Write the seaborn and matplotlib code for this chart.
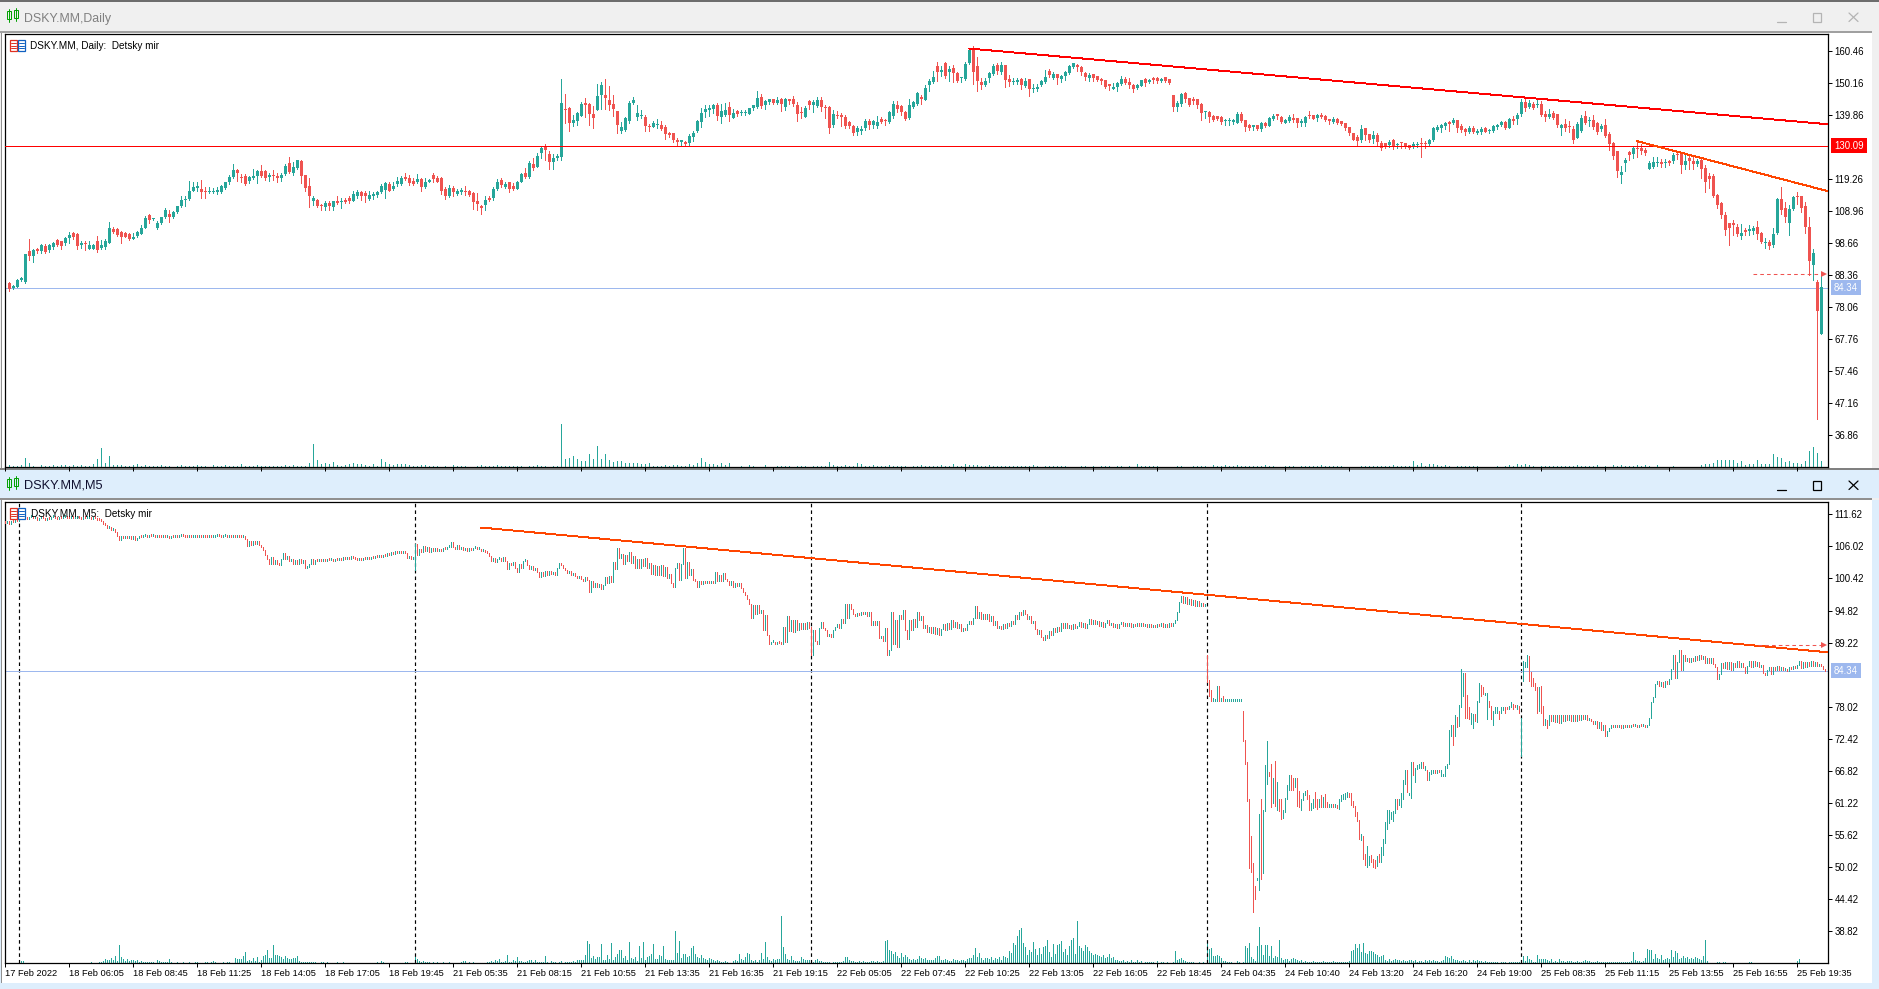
import numpy as np
import pandas as pd
import matplotlib
matplotlib.use("Agg")
import matplotlib.pyplot as plt
import seaborn as sns
from matplotlib.patches import Rectangle
from matplotlib.transforms import Affine2D

# ---------- daily candles (open, high, low, close) ----------
D1_A = [(85.8,86.1,83.1,83.8),(84.3,85.2,84.0,84.7),(84.5,87.1,84.4,86.9),(86.9,87.6,86.6,87.4),(86.3,95.2,85.9,95.2),(96.0,100.0,93.3,94.6),(94.6,96.8,92.7,96.3),(96.7,97.0,95.4,96.0),(96.0,98.3,95.6,98.0),(97.8,98.3,95.6,95.9),(96.3,98.3,95.8,98.0),(97.4,99.1,96.7,98.8),(99.7,100.1,97.6,98.1),(99.3,99.5,96.7,97.8),(98.6,100.6,98.0,100.4),(100.2,102.2,98.6,101.3),(102.0,102.3,100.0,100.8),(101.6,101.9,96.7,97.8),(98.1,99.2,97.0,98.6),(98.8,99.4,96.3,98.4),(96.8,99.3,96.7,98.0),(96.8,98.3,96.7,98.0),(99.2,101.0,95.9,96.3),(97.0,99.7,96.8,98.1),(97.3,99.9,96.9,99.5),(98.6,105.5,98.6,103.6),(103.2,103.8,101.9,102.2),(103.1,103.4,101.0,101.3),(102.4,102.7,98.8,100.8),(101.9,102.1,100.6,100.8),(101.6,101.9,99.7,100.1),(100.1,101.9,99.9,100.8),(101.0,102.7,100.8,102.4),(101.6,104.4,101.5,103.5),(103.7,107.4,103.5,106.8),(107.8,108.1,105.3,106.2),(106.3,106.9,106.0,106.6),(103.7,105.9,103.2,105.3),(105.3,107.2,104.9,107.2),(107.0,110.1,106.7,109.2),(108.1,109.4,105.6,107.0),(107.0,109.0,106.7,108.6),(108.8,110.5,108.5,110.5),(110.7,113.7,110.2,112.6),(112.6,113.7,110.7,112.9),(113.0,118.6,112.6,115.4),(115.6,118.2,115.3,116.9),(116.5,118.2,115.6,117.1),(116.0,119.0,113.1,115.0),(115.6,116.9,113.3,115.0),(115.0,116.9,114.7,115.5),(115.2,116.4,114.7,115.6),(115.2,116.7,114.4,115.8),(115.0,117.4,114.7,117.1),(116.4,118.5,116.0,118.3),(118.4,120.6,117.7,120.1),(120.1,124.2,119.7,122.2),(122.2,122.5,118.7,121.4),(119.7,121.0,118.5,119.5),(120.4,121.0,117.4,117.7),(118.8,120.3,118.0,120.1),(119.7,122.5,119.2,120.3),(120.3,122.2,118.0,121.8),(121.8,123.9,120.1,120.3),(121.8,122.2,119.0,119.7),(120.1,121.2,118.8,120.7),(120.6,122.2,119.0,120.3),(120.4,121.4,118.5,119.6),(119.6,121.4,118.8,120.6),(121.0,124.2,120.6,123.6),(124.4,126.3,121.2,121.6),(121.4,124.9,120.6,123.1),(122.9,125.5,122.5,125.3),(125.0,125.3,118.0,120.3),(120.6,120.6,115.3,116.4),(117.1,119.6,110.2,113.7)]
D1_B = [(112.1,113.7,111.0,113.1),(112.6,112.8,110.2,110.7),(111.0,111.3,109.4,110.5),(110.2,112.3,109.4,111.7),(111.7,112.3,109.2,110.5),(110.2,112.3,109.4,112.2),(112.3,113.7,111.3,111.5),(112.0,113.1,109.9,112.4),(112.6,113.1,111.5,112.0),(113.1,113.7,111.7,112.1),(112.4,115.3,112.1,114.5),(113.7,115.8,113.1,115.2),(115.0,115.6,112.6,113.7),(114.7,115.3,111.8,113.7),(112.9,115.3,112.6,114.2),(113.7,115.0,112.8,114.5),(114.2,115.5,113.5,115.0),(115.2,117.7,114.7,117.1),(115.8,118.2,113.1,118.0),(117.7,118.2,115.3,115.6),(116.0,118.5,115.8,117.1),(117.7,120.1,117.1,118.8),(117.7,120.3,117.3,119.7),(119.9,121.2,119.0,119.2),(119.6,120.6,117.4,118.0),(118.7,119.6,117.4,117.7),(118.5,121.0,118.0,119.2),(119.2,119.6,115.6,116.7),(116.7,119.6,116.4,118.5),(118.4,119.2,118.2,119.0),(120.5,121.2,118.2,119.2),(119.6,120.3,118.2,118.5),(119.7,119.9,114.5,115.3),(116.0,116.9,112.9,113.9),(113.9,117.4,113.5,116.3),(116.5,117.1,113.7,115.0),(114.5,116.0,114.2,115.3),(115.0,116.4,114.5,115.8),(115.4,117.1,114.2,115.1),(115.3,115.8,113.7,114.2),(114.7,115.0,109.6,112.0),(112.1,114.7,109.4,111.2),(110.7,111.0,108.1,109.9),(111.0,113.7,109.4,112.6),(113.1,113.7,112.3,112.6),(113.1,116.6,112.6,116.1),(116.1,119.2,115.8,118.4),(119.0,119.6,116.9,117.3),(116.9,118.5,116.4,117.8),(118.2,118.5,115.0,116.2),(117.2,118.0,115.8,116.1),(116.2,118.6,116.0,118.4),(118.5,121.2,118.2,121.0),(121.4,122.8,119.6,119.9),(119.9,125.2,119.6,124.4),(124.2,126.0,122.2,122.8),(123.3,127.8,123.1,126.8),(127.6,129.5,126.0,129.2),(129.8,130.6,125.5,128.7),(127.4,128.2,122.6,124.9),(124.8,127.3,122.6,126.1),(126.1,127.4,125.5,126.8),(126.5,151.4,125.5,143.7),(142.0,146.7,137.3,141.4),(142.2,142.6,134.8,137.5),(137.5,139.9,136.4,138.3),(138.1,141.0,136.7,140.5),(139.6,144.2,139.6,143.5),(143.9,145.3,139.4,143.2),(143.5,143.7,136.7,140.3)]
D1_C = [(140.3,142.9,135.6,139.0),(141.6,149.9,141.4,146.1),(146.4,150.5,141.8,149.6),(146.4,151.5,141.9,145.4),(144.8,149.3,141.6,143.2),(143.4,146.4,139.6,142.0),(141.2,141.2,134.3,136.8),(134.9,137.6,134.3,136.0),(135.1,139.2,134.9,139.0),(138.1,144.4,137.5,143.8),(143.7,145.8,143.5,144.8),(139.3,143.2,138.3,140.5),(139.5,141.6,138.9,139.7),(139.2,139.8,134.9,136.4),(136.4,136.9,134.9,136.2),(136.2,138.0,136.0,137.3),(136.8,138.7,135.6,137.1),(136.7,138.0,135.1,135.4),(136.0,136.7,132.2,133.8),(134.0,134.5,133.0,133.5),(134.2,134.2,131.1,131.9),(131.9,132.5,130.2,131.1),(131.4,131.7,130.2,131.5),(131.3,131.7,130.2,130.6),(130.8,133.8,130.2,133.2),(132.9,134.9,131.6,134.3),(134.8,138.3,134.6,138.0),(137.7,142.2,136.1,140.6),(140.9,143.2,139.3,141.9),(141.6,143.2,139.6,142.1),(141.9,143.5,140.7,143.0),(143.2,143.7,138.3,139.6),(139.3,143.5,137.5,141.2),(139.9,143.7,139.6,141.6),(142.5,144.1,138.1,139.9),(139.0,141.9,138.9,140.6),(141.2,141.6,139.6,140.3),(140.7,141.4,140.1,140.9),(140.7,141.6,140.1,140.9),(140.3,142.2,140.3,142.1),(142.1,143.2,141.6,143.0),(142.6,147.7,142.2,145.4),(145.8,146.7,142.2,142.9),(143.2,144.8,141.9,144.3),(144.0,145.1,143.5,145.0),(145.0,145.1,143.5,143.8),(143.9,145.8,143.5,144.8),(145.0,145.3,141.2,143.5),(142.5,145.3,141.6,145.0),(145.0,145.1,143.5,144.5),(145.1,146.1,142.9,143.5),(143.2,144.1,138.0,140.3),(140.6,142.4,139.0,140.5),(139.3,142.9,139.2,142.2),(144.3,144.8,141.9,143.2),(143.2,144.8,140.9,144.1)]
D1_D = [(142.9,145.8,142.6,144.8),(144.8,145.8,141.2,142.5),(142.2,143.2,139.0,142.1),(142.5,142.9,134.3,135.8),(136.7,141.6,136.1,140.3),(140.0,141.2,139.0,139.6),(140.0,140.6,136.4,139.3),(139.3,140.0,135.8,136.4),(137.7,138.0,135.8,136.4),(136.4,136.7,133.5,134.2),(134.5,136.4,133.5,135.8),(134.8,136.4,133.8,135.4),(135.8,138.7,135.1,138.0),(138.0,138.5,135.3,136.7),(136.7,138.3,135.8,138.0),(136.4,139.6,135.7,137.7),(138.7,139.3,137.3,137.7),(138.0,138.6,136.7,137.9),(137.7,141.2,137.4,140.9),(139.6,144.6,139.0,143.5),(143.2,144.3,140.9,141.9),(142.9,143.2,140.0,140.9),(140.9,141.2,138.3,138.7),(139.0,145.1,138.7,143.2),(142.5,144.5,142.2,144.1),(143.5,147.4,143.2,147.0),(145.8,146.4,143.5,145.1),(144.8,149.6,144.8,148.6),(149.6,151.5,147.7,150.9),(150.6,154.1,150.3,152.2),(155.7,157.0,150.9,153.8),(153.8,155.7,152.5,154.4),(156.7,157.0,151.9,152.5),(153.8,155.7,150.9,154.8),(155.1,156.1,150.6,153.5),(153.5,153.8,150.7,150.9),(151.8,152.2,150.6,151.9),(151.5,157.0,151.2,156.4),(156.7,161.2,156.4,160.9),(160.9,162.2,149.9,153.8),(155.7,158.6,147.7,150.9),(150.6,151.9,148.3,149.6),(149.6,151.9,149.3,150.9),(151.9,153.8,150.6,153.5),(153.2,156.4,152.8,155.7),(156.1,156.7,153.2,154.1),(153.8,157.0,153.2,156.1),(156.1,156.1,149.0,151.2),(151.5,152.8,149.3,150.6),(150.6,151.9,149.9,150.9),(150.6,151.9,149.9,151.2),(151.5,151.9,148.3,149.6),(149.3,151.9,149.0,150.9),(151.5,151.5,146.1,148.3),(148.3,149.9,147.4,148.6),(148.3,149.9,147.7,149.0),(149.6,151.2,149.3,150.9),(150.6,154.4,150.4,152.2),(154.1,154.8,152.2,152.8),(151.9,153.8,151.5,153.2),(153.2,153.2,149.9,151.9)]
D1_E = [(151.5,152.7,150.6,152.5),(152.5,154.1,151.2,153.8),(153.5,156.0,153.2,155.7),(155.4,156.8,155.1,156.7),(156.0,156.4,154.1,155.4),(155.4,155.7,152.8,153.8),(153.5,153.8,151.2,152.2),(151.9,153.5,150.9,152.8),(153.2,153.2,150.9,151.9),(152.5,152.5,150.9,151.2),(151.5,151.9,150.0,150.9),(151.2,151.2,148.7,149.0),(149.9,149.9,148.0,149.3),(148.3,150.3,148.2,149.0),(149.0,150.6,147.7,150.3),(149.9,152.5,149.6,151.5),(151.5,152.2,149.9,150.3),(150.6,151.9,148.7,149.6),(149.6,149.9,147.4,148.3),(148.7,149.9,148.3,149.6),(149.3,151.2,149.3,151.2),(151.5,151.9,149.3,150.3),(150.6,151.5,150.3,151.2),(151.9,152.2,150.3,151.2),(151.9,152.2,150.3,150.9),(150.9,151.9,150.6,151.5),(152.2,152.2,150.6,150.9),(151.5,151.5,149.9,150.3),(146.4,146.4,141.2,142.5),(142.5,144.5,141.2,143.8),(143.5,146.9,142.9,146.7),(147.0,147.4,144.1,145.1),(145.4,145.4,142.9,143.2),(144.8,145.8,143.5,144.6),(145.1,145.1,142.2,143.2),(143.5,143.8,138.3,140.6),(140.8,141.2,139.0,140.9),(140.9,141.2,137.7,139.3),(139.6,140.0,138.0,138.3),(139.6,139.6,138.3,138.7),(139.3,139.6,137.1,137.7),(138.0,138.7,136.7,138.3),(138.0,139.0,136.7,138.3),(137.7,138.7,137.1,138.3),(137.4,140.9,137.3,140.3),(140.3,140.9,137.7,138.0),(138.3,138.3,134.8,136.1),(136.7,137.1,135.1,135.8),(136.1,136.7,135.1,136.7),(136.7,136.7,135.1,135.4),(135.4,137.7,134.8,137.4),(137.4,137.7,136.1,136.4),(136.4,139.3,136.3,139.0),(138.7,140.3,138.3,139.6),(140.3,140.3,138.7,139.6),(139.3,139.6,137.4,137.7)]
D1_F = [(137.4,138.7,137.4,138.3),(138.0,140.0,137.7,139.3),(139.0,140.3,137.7,138.3),(139.0,139.0,136.1,137.4),(137.4,138.7,136.4,138.0),(137.4,139.6,136.4,139.3),(140.0,141.2,139.0,139.6),(140.0,140.0,138.7,138.7),(139.0,140.3,138.0,140.0),(140.0,140.6,139.0,139.3),(139.6,140.0,138.0,138.3),(138.7,138.7,137.1,138.0),(137.7,139.3,137.4,138.7),(138.7,139.0,137.1,137.4),(138.0,138.0,136.7,137.1),(137.4,137.4,135.1,135.8),(136.1,136.1,133.5,134.2),(134.2,134.2,131.9,131.9),(132.9,133.5,130.3,131.6),(131.9,136.7,131.3,135.4),(135.8,135.8,131.9,133.5),(133.8,133.8,131.3,131.9),(132.2,134.8,130.9,133.5),(133.5,134.2,130.3,131.3),(130.9,131.6,128.7,129.3),(130.9,130.9,129.3,130.0),(130.3,131.9,129.7,131.3),(131.9,132.2,129.0,130.0),(130.3,130.9,129.3,130.6),(131.3,131.3,129.3,130.9),(130.9,130.9,129.3,129.6),(130.3,130.3,129.0,129.3),(129.6,131.3,129.3,130.6),(130.3,131.3,129.7,130.6),(130.8,132.6,126.4,130.7),(130.9,131.6,129.3,130.7),(130.6,132.2,130.3,131.9),(131.9,136.1,131.6,135.8),(135.1,136.7,134.8,136.1),(135.8,137.1,134.5,136.7),(136.4,137.7,135.5,137.4),(137.7,138.0,134.8,137.1),(137.4,139.0,137.1,138.3),(138.3,138.3,134.5,135.8),(136.4,137.1,134.5,135.1),(135.4,135.8,133.5,134.5),(134.5,136.4,134.2,135.8),(135.8,136.4,134.2,134.5),(134.2,135.4,133.8,134.8),(134.5,136.1,133.8,135.4),(135.8,136.1,134.5,134.5),(134.8,135.4,134.2,135.1),(134.8,136.7,134.5,136.4),(136.1,137.1,135.4,136.7),(136.7,138.0,136.4,137.7),(137.7,138.0,135.4,135.8),(135.8,139.0,135.8,138.7),(138.7,139.6,137.1,138.0),(138.7,140.6,137.1,140.0)]
D1_G = [(140.3,145.2,139.6,144.2),(144.2,145.4,141.2,142.3),(142.5,144.8,142.3,143.8),(143.5,144.1,141.9,142.2),(143.2,145.1,142.5,143.4),(143.5,144.5,139.6,140.0),(140.3,141.2,138.0,139.3),(139.3,141.9,139.0,140.3),(140.6,141.2,138.7,139.0),(140.3,140.3,136.1,136.7),(135.8,137.1,133.5,136.7),(137.1,138.7,134.8,135.8),(136.4,138.0,134.5,136.1),(135.4,136.4,130.9,131.9),(132.5,137.7,132.5,137.1),(134.8,139.9,134.5,139.0),(139.6,141.2,137.1,137.4),(138.0,139.3,136.4,138.3),(138.3,139.9,135.5,136.1),(137.4,137.7,133.8,134.5),(135.5,137.1,134.8,136.4),(136.7,138.7,132.9,133.2),(133.8,134.5,128.7,130.6),(130.9,131.3,125.8,126.8),(128.4,128.4,120.0,121.9),(120.6,123.5,118.1,121.6),(124.5,126.1,121.9,125.5),(128.0,128.4,125.5,127.1),(127.4,129.7,126.1,129.3),(129.3,131.6,126.4,129.1),(129.3,130.6,127.4,128.4),(128.7,129.3,127.1,127.7),(122.6,125.1,122.6,124.5),(123.2,126.4,122.9,124.8),(124.6,126.4,123.5,124.8),(124.8,125.8,123.2,124.2),(124.5,125.8,123.2,124.7),(125.1,125.5,123.9,124.5),(125.1,127.7,124.5,127.1),(127.1,127.7,125.8,127.0),(127.4,128.0,121.3,123.9),(123.9,127.4,122.6,125.1),(126.1,127.4,122.6,125.1),(125.1,126.7,122.6,124.2),(124.2,125.8,123.5,125.1),(125.5,125.8,119.7,122.6),(122.9,123.9,115.2,118.4),(120.3,121.3,116.5,119.4),(120.3,121.0,113.6,113.9),(114.2,114.5,110.0,111.0),(111.6,112.0,106.8,107.8),(107.8,108.7,101.3,103.0),(105.2,105.2,98.1,103.6),(105.2,106.2,101.3,104.5),(103.9,104.9,101.0,101.7),(101.0,104.9,100.0,102.0),(103.0,103.6,101.3,102.3),(102.6,104.5,101.3,103.2),(102.6,104.2,101.6,103.6),(103.9,105.8,100.0,101.6),(102.0,102.3,98.7,99.1),(98.7,100.4,97.1,99.1),(99.1,99.7,96.8,97.8),(98.1,103.6,97.5,101.6),(102.0,113.2,101.6,112.9),(112.9,116.8,108.1,109.4),(110.0,112.0,105.5,107.1),(105.2,111.0,101.3,109.7),(109.7,113.9,109.4,113.6),(113.9,115.2,111.3,113.6),(113.9,113.9,108.7,110.0),(110.7,112.0,102.0,103.9),(103.9,107.1,88.5,92.9),(91.7,96.8,86.8,95.5),(86.2,86.8,42.1,76.9),(69.5,88.1,69.5,84.6)]
D1_VOL_A = [2,1,1,2,9,4,1,0,2,1,1,2,1,2,2,1,2,1,2,1,1,3,8,19,4,11,2,2,2,1,1,2,3,1,2,1,1,1,2,1,1,0,1,2,1,1,1,2,1,1,0,2,1,1,2,1,1,1,3,1,1,1,2,1,1,1,1,1,1,2,1,2,1,1,1,4]
D1_VOL_B = [23,7,3,4,3,5,2,1,2,3,4,3,3,2,1,3,1,8,5,3,2,3,3,3,2,1,1,2,2,1,1,1,0,1,0,2,1,1,1,0,0,1,2,1,1,1,2,1,1,1,1,1,1,0,1,1,2,1,1,0,1,1,43]
D1_VOL_C = [8,9,11,8,6,6,13,8,21,8,13,7,5,6,6,4,4,4,4,3,3,4,1,1,1,2,1,2,2,1,1,3,2,4,9,5,3,3,2,4,2,4,0,0,1,0,2,1,0,0,2,0]
D1_VOL_D = [0,1,1,1,1,0,1,1,1,0,1,1,1,1,5,2,1,1,2,1,1,4,3,1,1,2,1,1,1,2,1,1,1,1,0,1,1,2,1,1,1,1,2,1,1,3,1,1,3,2,2,2,1,1,2,1,1,1,1,1,1,1,1,1,1,2,1,0,1,1,1,1,1,1,0,0,0,1,1,0,1,0,1,1,1,0,1,1,0,1,0,3,1,1,1,1,1,0,0,0,0,1,1,0,0,1,1,1,1,0]
D1_VOL_E = [2,1,1,2,1,1,2,1,1,1,1,1,1,2,1,1,0,0,1,1,1,0,1,1,1,1,1,2,1,1,1,1,1,0,0,0,0,1,1,1,1,1,1,1,1,2,1,1,1,1,6,2,4,1,3,3,2,1,2,1,0,1,1,1,1,1,1,0,0,0,0,1,0,1,2,1,3,2,3,2,1,0,1,1,1,1,1,1,1,1,1,2,1,1,1,1,2,0,1,0]
D1_VOL_F = [2,1,2,1,1,1,2,1,2,1,0,2,0,0,0,1,0,0,0,0,0,0,2,3,3,4,7,7,7,7,7,4,6,2,3,3,7,3,3,3,13,10,9,5,6,4,4,3,6,16,20,14,6]

# ---------- M5 closes, in segments keyed by bar number ----------
M5_CLOSE_SEGMENTS = {
0: [110.1,110.4,110.0,110.4,110.2,110.8,110.4,111.0,111.2,110.9,111.1,110.8,111.1,111.2,110.9,111.1,110.7,110.9,111.2,110.9,110.7,111.0,110.8,111.1,111.2,110.9,110.8,111.0,110.9,111.1,111.2,111.0,110.9,111.1,110.9,111.0,111.2,111.0,110.8,111.1,110.9,111.0,111.1,110.8,111.0,110.9,110.7,110.6,110.4,110.0,109.7,109.3,109.4,108.9,109.0,108.6,107.9,107.1,107.9,107.4,107.9,107.5,107.8,107.3,107.9,107.2],
66: [107.5,107.8,107.6,107.8,107.9,107.7,108.0,107.8,108.0,107.7,107.9,107.7,107.6,107.8,107.6,107.7,107.5,107.7,107.6,107.8,107.6,107.9,108.2,107.9,107.7,107.6,107.8,107.6,107.7,107.8,107.6,107.8,107.7,107.9,107.7,107.6,107.8,107.6,107.7,107.9,108.2,107.8,107.7,107.8,107.9,107.7,107.8,107.6,107.8,107.7,107.9,107.7,107.6,107.8],
120: [107.3,106.1,107.0,106.2,107.0,106.4,106.9,106.3,106.0,105.4,104.6,103.9,103.0,104.1,102.9,103.6,102.9,102.8,103.9,104.8,103.8,104.3,103.5,103.9,102.9,103.7,103.0,103.9,103.1,103.7,102.2,102.5,103.0,103.8,103.0,103.7,103.4,103.8],
158: [103.5,103.8,103.4,103.7,103.6,103.9,103.5,103.8,103.6,104.0,103.7,104.1,103.9,104.2,103.8,104.3,104.0,103.8,103.6,103.9,103.7,104.0,103.8,104.1,103.9,104.2,104.0,104.3,104.1,104.4,104.2,104.6,104.3,104.8,104.5,105.0,104.7,105.2,104.9,105.1,104.9,105.0,104.8,104.0,104.4,103.9,104.2],
206: [104.6,105.6,105.0,106.1,105.3,105.9,105.0,105.7,105.3,105.7,105.2,105.6,105.3,105.8,105.5,105.9,106.0,106.7,106.0,105.6,106.2,105.6,105.9,105.4,105.7,105.3,105.7,105.4,105.7,105.8,105.5,105.6,105.2,105.4,105.0,104.8,104.3,103.5,104.0,103.3,103.9],
247: [104.0,103.5,104.2,103.5,102.0,103.2,102.8,103.3,102.2,101.5,102.9,102.3,103.4,103.6,102.7,102.0,102.6,101.9,102.2,101.5,100.7,101.6,100.9,101.7,101.1,101.8,101.2,101.5,101.0,102.2,103.1,102.7,102.2,101.9,101.3,101.7,101.0,101.3,100.8,100.5,100.8,100.4,100.0,100.6,100.2,98.1,99.9,98.9,99.7,98.9,99.5,98.6,99.3],
300: [100.7,99.6,100.9,99.8,103.3,102.0,105.7,104.0,104.7,103.0,104.5,103.5,105.1,103.2,104.3,102.3,103.8,102.2,103.9,102.6,104.0,102.2,103.2,101.2,102.8,101.0,102.6,101.0,102.7,100.8,102.5,100.5,101.2,99.6,98.9,102.2,103.2,100.2,102.9,105.7,100.5,103.3,101.0,102.0,100.2,99.9,99.0,99.9,99.4,99.9,99.6,99.9,99.6,99.9,99.6,101.6,99.9,101.0,100.0,101.4,100.4,100.0,99.3,99.9,99.0,99.7,99.1,99.7],
368: [98.8,98.0,97.5,96.8,96.0,93.6,95.8,94.3,95.8,94.4,95.0,91.4,94.0,90.5,88.9,89.3,89.4,89.0,89.4,89.2,89.0,91.9,89.3,93.8,91.2,93.1,91.0,93.1,91.5,92.7,91.6,92.7,91.6,92.9,91.8],
405: [89.5,89.0,91.7,92.9,91.8,91.5,90.4,90.8,90.2,91.4,92.0,92.5,91.8,93.3,92.6,95.9,93.5,95.9,95.1,94.2,93.8,94.4,94.0,94.6,94.2,94.5,93.9,94.6,92.3,93.0,92.3,93.0,90.0,90.4,89.5,91.7,87.1,87.9,94.6,89.0,93.2,88.5,94.0,93.4,94.9,91.4,89.9,93.2,91.5,93.3,92.0,94.6,93.2,93.9,91.8,92.3,91.0,92.0,90.9,91.9,90.7,91.8,90.6,91.6,92.4,91.4,92.7,91.6,93.1,92.0,92.9,91.7,92.5,91.2,91.8,91.4,92.4,93.0,92.4,93.5,95.6,93.6,94.6,93.4,94.2,93.3,94.2,93.0,93.8,92.3,93.0,91.8],
497: [92.2,91.6,92.4,91.8,92.7,92.1,93.0,92.4,94.0,93.4,94.6,94.0,94.9,94.2,93.3,93.8,92.6,93.0,91.6,90.8,91.5,90.2,89.6,90.6],
521: [90.0,91.2,90.5,91.8,91.0,92.0,91.2,92.6,91.7,92.6,91.8,92.3,91.6,92.5,91.7,92.2,92.9,92.0,92.6,91.8,92.4,93.3,92.5,93.1,92.4,93.0,92.2,92.8,92.0,92.6,93.1,92.3,92.7,92.0,92.5,91.8,92.4,92.8,92.2,92.7],
561: [92.1,92.6,92.0,92.5,92.1,92.7,92.2,92.6,92.1,92.5,92.0,92.4,91.9,92.3,91.9,92.5,92.1,92.6,92.0,92.4,92.0,92.6,92.2,92.7,93.2,94.6,96.3,97.4,96.2,97.1,96.0,96.9,95.8,96.6,95.7,96.4,95.6,96.2,95.6,96.0],
773: [75.6,76.6,75.3,76.6,75.2,76.6,75.6,76.6,75.7,76.6,75.6,76.5,75.6,76.5,75.7,76.6,75.9,76.6,75.7,75.9,75.6,75.0,75.6,74.3,75.3,74.0,74.8,73.0,73.8],
802: [74.4,74.9,74.5,74.9,74.5,74.8,74.4,74.8,74.5,74.9,74.5,74.8,74.6,74.9,74.5,74.8,74.6,74.9,74.5,74.8],
822: [76.0,78.9,79.8,82.0,82.6,81.7,82.4,81.4,82.6,82.0,82.8,84.6,87.0,83.0,85.9,87.9,84.4,87.0,86.0,86.6,85.8,86.5,86.0,86.9,86.2,87.0,86.3,86.9,85.7,86.6,85.6,86.5,85.5,85.0,82.9,83.8,85.6,84.8,85.8,84.6,85.8,84.5,85.6,85.0,86.0,85.0,85.7,84.9,84.0,85.2,86.0,85.0,86.0,85.2,85.9,85.0,85.4,84.0,83.6,84.5,85.0,83.7,85.0,84.5,85.1,84.5,84.9,84.4,84.7,84.2,85.0,84.7,85.1,84.8,85.4,86.0,84.8,85.9,85.0,85.8,85.2,86.0,85.2,85.8,85.2,85.5,85.1,84.7,84.3],
}
# M5 bars that open away from the previous close: (open, close)
M5_GAP_BARS = {205: (101.9, 106.4), 403: (91.9, 87.1), 404: (87.1, 91.4)}
M5_CRASH_START = 601
M5_CRASH_BARS = [(87.1,82.4),(82.7,79.9),(81.0,79.1),(79.1,79.5),(79.1,79.3),(79.1,81.6),(81.6,79.1),(79.1,79.5),(79.9,79.1),(79.1,79.3),(79.1,79.3),(79.1,79.3),(79.1,79.3),(79.1,79.3),(79.1,79.3),(79.1,79.3),(79.1,79.3),(79.1,79.3),(77.2,72.1),(72.2,68.0),(68.4,61.6),(61.9,49.8),(55.4,49.2),(50.7,42.2),(46.7,44.5),(47.8,48.1),(46.0,59.3),(62.0,48.0),(49.0,60.0),(59.9,67.9),(64.5,72.1),(66.7,65.9),(68.0,60.6),(61.2,65.6),(68.5,60.7),(60.0,64.9),(62.0,59.8),(62.0,58.4),(58.6,60.0),(59.7,62.1),(61.9,64.4),(63.5,66.1),(66.1,63.5),(65.5,63.5),(64.1,65.5),(65.6,60.7),(63.3,60.5),(60.0,62.0),(61.7,62.9),(62.6,63.4),(63.5,62.0),(62.6,60.0),(60.0,61.3),(60.3,62.0),(63.1,60.5),(62.0,60.1),(60.5,61.9),(62.6,60.6),(60.5,62.3),(62.8,60.5),(61.4,60.6),(60.5,61.0),(60.6,61.0),(61.0,60.5),(60.6,61.0),(60.9,60.3),(60.2,62.0),(61.6,62.6),(61.9,62.8),(62.0,62.9),(62.3,63.1),(63.0,62.3),(62.9,60.9),(61.6,60.6),(60.7,59.0),(59.6,58.0),(58.2,55.0),(54.8,55.8),(55.4,51.4),(52.3,50.4),(50.1,53.7),(50.4,52.0),(52.1,51.0),(51.4,50.1),(51.2,49.9),(50.2,52.0),(52.4,50.9),(50.9,53.6),(52.1,54.9),(54.3,57.9),(56.7,60.0),(57.8,60.0),(58.5,59.7),(58.0,59.9),(59.4,61.9),(61.9,60.1),(60.9,62.0),(60.6,62.9),(62.0,65.2),(64.5,66.9),(66.9,63.1),(62.6,63.0),(62.1,68.4),(68.4,66.1),(64.9,67.3),(67.1,67.9),(67.3,68.0),(67.4,68.4),(68.4,67.3),(66.9,67.6),(66.9,65.3),(65.2,66.6),(66.3,67.0),(66.4,67.0),(67.0,66.5),(66.5,67.0),(67.0,66.6),(65.9,66.9),(65.9,66.3),(65.9,67.7),(67.4,68.1),(68.0,74.0),(72.9,74.8),(74.8,71.3),(72.9,76.6),(76.2,74.5),(74.7,78.3),(77.9,84.7),(79.9,84.0),(84.0,76.0),(80.1,76.0),(78.0,75.8),(75.1,76.9),(74.3,76.8),(76.8,75.5),(75.4,79.0),(78.8,82.1),(81.9,79.9),(81.5,80.2),(80.1,80.5),(75.9,80.5),(79.1,78.0),(78.1,75.8),(74.8,77.3),(77.0,77.9),(76.9,78.0),(77.3,75.8),(77.0,78.0),(77.4,78.0),(77.9,76.9),(78.0,77.6),(77.6,78.2),(77.9,78.9),(78.5,77.7),(78.3,77.9),(77.7,78.4),(78.2,76.9),(69.4,76.0),(82.5,86.0),(85.0,85.8),(85.0,87.1),(86.9,82.6),(84.1,81.6),(83.0,81.6),(82.1,80.9),(81.4,77.0),(77.2,81.5),(81.6,77.0),(78.1,74.8),(74.8,75.9),(75.7,74.4),(74.8,76.6)]
M5_VOL_SEGMENTS = {
0: [0,0,0,0,0,0,0,1,2,2,0,0,0,0,0,0,0,0,0,0,0,0,0,0,0,0,0,0,0,0,0,0,0,0,0,0,0,0,0,0,0,0,0],
43: [1,0,0,0,1,1,2,4,3,3,5,3,7,2,18,6,4,2,4,2,3,3,2,3,1,2,1,1,1,1,1,1,0,3,2,1,1,1],
81: [1,4,1,0,0,1,0,0,1,0,0,1,0,0,1,1,0,0,0,1,1,0,1,2,1,0,0,0,1,0,1,1,0,0],
115: [5,4,4,4,7,11,2,3,2,5,2,6,1,3,7,8,13,5,5,18,8,8,7,6,4,7,5,4,4,5,5,7,2,1,1,1],
151: [1,1,1,1,1,0,0,1,1,0,1,0,0,0,0,1,0,0,1,0,0,0,0,0,0,0,0,0,0,0,0,0,0,0,0,1,0,2,1,0,0,0,0,0,0,0,0,0,0,1,1,0,0,0],
205: [6,4,2,1,2,1,1,1,0,1,0,1,0,0,1,0,0,1,0,0,0,0,0,1,2,2,0,1,0,1,0,0,0,0,0,0],
241: [1,1,2,1,3,2,4,1,1,2,8,1,1,3,2,6,2,2,1,1,2,3,3,1,3,1,1,1,1,7,1,0,2,1,1,0,1,2,0,1,1,1,1,2,1,3,3,3,3,8],
291: [22,19,5,7,4,6,6,19,3,3,8,4,20,3,6,9,13,13,5,7,3,21,5,4,6,2,17,5,21,3,6,7,9,19,4,4,8,7,17,4,3,3,3,3,32,10,22,5,9,9,6,7,15,17,9],
346: [6,5,8,5,4,3,5,4,3,2,3,2,1,1,2,1,0,0,2,3,2],
367: [9,4,3,6,10,9,3,2,3,1,3,10,4,21,6,3,2,4,3,4,4,47,16,9,4,3,7,3,2,2,2,6,4,3,3,3,2,1],
405: [3,4,2,2,1,1,1,1,0,1,1,1,1,1,2,6,6,3,2,2,1,1,2,1,2,1,1,1,2,2,1,2,1,1,2],
440: [22,23,13,12,9,11,7,5,10,6,8,6,4,3,4,3,4,7,5,4,5,3,3,3,3,5,7,7,3,3,4,3,2,2,4,3,3,2,3,3,2,4,5,5,8],
485: [15,6,10,5,3,5,5,4,6,3,5,4,6,3,7,6,5,12,10,20],
505: [18,27,33,35,20,16,8,13,11,21,14,8,15,9,16,17,23,11,6,19,9,18,19,22,11,14,8,17,23,25,9,42,17,15,12,18],
541: [16,12,10,8,9,8,7,6,8,5,6,9,5,6,3,3,2,2,3,1,2,1,3,1,1,3,1,2,0,1,1,1,1,1,0,2,0,1,1,0,1,0,0,1],
585: [12,3,4,5,3,2,1,1,1,1,0,0,1,0,1,0],
601: [22,14,15,7,7,8,7,5,2,2,1,1,1,0,0,2,1,0,1,17,15,20,6,4,2,17,36,18,8,18,18,7,17,5,7,6,23,5,3,4,4,2,4,5,4,3,2,3,1,2,1,1,1,2,1,1,1,1,2,1],
661: [1,1,1,2,1,1,1,1,1,1,1,2,12,13,19,15,19,11,20,10,9,12,12,11,9,8,6,7,8,3,2,4,2,3,4,3,3,2,3,2,2,3,3,2,3,1,2,2,1,3,2,3,2,3,2,2,1,2,3,7],
721: [6,5,7,4,3,3,2,2,3,2,1,3,1,3,2,3,2,2,1,2,1,1,1,1,1,1,0,1,1,1,0,1,1,1,1,1,1,3,7,2],
761: [7,4,3,1,1,8,4,4,4,4,3,2,4,1,2,1,4,2,2,1,2,2,2,1,1,2,1,1,2,3,2,2,1,1,1,2,1,1,1,1,1,1,1,1,1,1,1,1,1,1,1,1,2,11,3,2,2,1,2,5],
821: [14,13,13,4,9,5,4,8,3,4,5,4,13,6,12,10,4,5,7,5,6,4,5,4,6,5,4,3,7,23,2,0,0,0,0],
856: [1,1,0,1,1,0,0,0,0,0,0,0,0,0,0,0,1,1,0,0,0,0,0,0,0,0,0,0,0,0,0,0,0,0,0,0,0,0,0,0,2,4],
}

# ---------- axes text ----------
D1_TICKS = [160.46,150.16,139.86,119.26,108.96,98.66,88.36,78.06,67.76,57.46,47.16,36.86]
M5_TICKS = [111.62,106.02,100.42,94.82,89.22,78.02,72.42,66.82,61.22,55.62,50.02,44.42,38.82]
M5_LABELS = ["17 Feb 2022","18 Feb 06:05","18 Feb 08:45","18 Feb 11:25","18 Feb 14:05","18 Feb 17:05","18 Feb 19:45",
             "21 Feb 05:35","21 Feb 08:15","21 Feb 10:55","21 Feb 13:35","21 Feb 16:35","21 Feb 19:15","22 Feb 05:05",
             "22 Feb 07:45","22 Feb 10:25","22 Feb 13:05","22 Feb 16:05","22 Feb 18:45","24 Feb 04:35","24 Feb 10:40",
             "24 Feb 13:20","24 Feb 16:20","24 Feb 19:00","25 Feb 08:35","25 Feb 11:15","25 Feb 13:55","25 Feb 16:55","25 Feb 19:35"]
D1_TREND1_X, D1_TREND1_Y = [239.9, 454.675], [161.36, 136.96]
D1_TREND2_X, D1_TREND2_Y = [407.0, 454.675], [131.49, 115.4]
D1_DASH_X, D1_DASH_Y = [435.9, 453.75], [88.68, 88.68]
M5_TREND_X, M5_TREND_Y = [237.6, 911.35], [109.32, 87.53]
M5_DASH_X, M5_DASH_Y = [876.3, 909.5], [88.75, 88.75]
M5_SEPARATORS = [7, 205, 403, 601, 758]
LEVEL_HIGH, LEVEL_LOW = 130.09, 84.34

TEAL, RED, BLUE = "#26A69A", "#EF5350", "#9DB8EE"
W, H = 1879, 989

sns.set_theme(style="white")
plt.rcParams["font.family"] = ["Liberation Sans", "DejaVu Sans"]
fig = plt.figure(figsize=(W / 100, H / 100), dpi=100, facecolor="#f0f0f0")
PX = Affine2D().scale(1 / W, -1 / H).translate(0, 1) + fig.transFigure


def rect(x0, y0, x1, y1, fc="none", ec="none", lw=0.0, z=-1):
    fig.add_artist(Rectangle((x0, y0), x1 - x0, y1 - y0, transform=PX, fc=fc, ec=ec, lw=lw, zorder=z))


def seg(x0, y0, x1, y1, c, lw=0.75, z=6):
    fig.add_artist(plt.Line2D([x0, x1], [y0, y1], transform=PX, color=c, lw=lw, zorder=z))


def label(x, y, s, **kw):
    fig.text(x / W, 1 - y / H, s, va="center", ha="left", **kw)


# window chrome
rect(0, 0, W, 2, fc="#6d6d6d")
rect(0, 31, 1872, 33, fc="#a0a0a0")
rect(2, 33, 1872, 468, fc="white")
rect(0, 468, W, 470, fc="#808080")
rect(0, 470, W, 498, fc="#deeefc")
rect(0, 498, 1872, 500, fc="#909090")
rect(0, 500, W, 989, fc="#deeefc")
rect(2, 500, 1872, 983, fc="white")
rect(1, 33, 2, 468, fc="#909090")
rect(1, 500, 2, 983, fc="#909090")


def candle_icon(y):
    c = "#00a000"
    rect(7.5, y + 3, 11.5, y + 11, ec=c, lw=0.7, z=6)
    rect(14, y + 2, 18, y + 10, ec=c, lw=0.7, z=6)
    seg(9.5, y + 1, 9.5, y + 14, c, lw=0.7)
    seg(16, y, 16, y + 13, c, lw=0.7)


def list_icon(y):
    for x0, c in ((10.5, "#e03020"), (18, "#1060c0")):
        rect(x0, y, x0 + 7, y + 11, fc="white", ec=c, lw=0.9, z=6)
        for dy in (3, 5.5, 8):
            seg(x0 + 1, y + dy, x0 + 6, y + dy, c, lw=0.7)


def buttons(y, c):
    seg(1777, y + 8.5, 1786, y + 8.5, c, lw=0.9)
    rect(1813.5, y, 1821.5, y + 8.5, ec=c, lw=0.9, z=6)
    seg(1849, y, 1858, y + 8.5, c, lw=0.9)
    seg(1849, y + 8.5, 1858, y, c, lw=0.9)


candle_icon(8); candle_icon(476)
list_icon(40); list_icon(508)
buttons(13, "#b4b4b4"); buttons(481, "#000000")
label(24, 19, "DSKY.MM,Daily", fontsize=8.9, color="#808080")
label(24, 485.5, "DSKY.MM,M5", fontsize=9.2, color="#101030")
label(30, 46, "DSKY.MM, Daily:  Detsky mir", fontsize=7.2, color="black", zorder=7)
label(30.5, 514, "DSKY.MM, M5:  Detsky mir", fontsize=7.2, color="black", zorder=7)


def make_axes(top, bottom):
    return fig.add_axes([5 / W, 1 - bottom / H, (1828 - 5) / W, (bottom - top) / H])


ax1 = make_axes(34, 467)
ax2 = make_axes(502, 963)
vol1 = ax1.twinx()
vol2 = ax2.twinx()

# ---------- volumes through seaborn ----------
d1_vol = D1_VOL_A + D1_VOL_B + D1_VOL_C + D1_VOL_D + D1_VOL_E + D1_VOL_F
df = pd.DataFrame({"bar": np.arange(len(d1_vol)), "volume": d1_vol})
sns.barplot(data=df[df.volume > 0], x="bar", y="volume", ax=vol1, native_scale=True, color=TEAL, saturation=1,
            width=0.25, linewidth=0, antialiased=False, errorbar=None)
m5v = {}
for start, vals in M5_VOL_SEGMENTS.items():
    for k, v in enumerate(vals):
        m5v[start + k] = v
df = pd.DataFrame({"bar": list(m5v), "volume": list(m5v.values())})
sns.barplot(data=df[df.volume > 0], x="bar", y="volume", ax=vol2, native_scale=True, color=TEAL, saturation=1,
            width=0.5, linewidth=0, antialiased=False, errorbar=None)
vol1.set_ylim(0, 433)
vol2.set_ylim(0, 461)

# ---------- daily candles ----------
rows = D1_A + D1_B + D1_C + D1_D + D1_E + D1_F + D1_G
o, h, l, c = map(np.array, zip(*rows))
x = np.arange(len(rows))
col = np.where(c >= o, TEAL, RED)
ax1.vlines(x, l, h, colors=col, lw=0.72, zorder=3, antialiaseds=False)
body_low = np.minimum(o, c)
body_h = np.maximum(np.abs(c - o), 0.35)
ax1.bar(x, body_h, bottom=body_low, width=0.72, color=col, linewidth=0, zorder=4, antialiased=False)

# ---------- M5 bars ----------
n5 = 911
cl = np.full(n5, np.nan)
for start, vals in M5_CLOSE_SEGMENTS.items():
    cl[start:start + len(vals)] = vals
op = np.r_[np.nan, cl[:-1]]
op[0] = 110.3
for j, (a, b) in M5_GAP_BARS.items():
    op[j], cl[j] = a, b
op[206] = 106.4
op[405] = 91.4
for k, (a, b) in enumerate(M5_CRASH_BARS):
    op[M5_CRASH_START + k], cl[M5_CRASH_START + k] = a, b
op[773] = 76.6
xj = np.arange(n5)
ok = ~(np.isnan(op) | np.isnan(cl))
col5 = np.where(cl >= op, TEAL, RED)
lo5 = np.minimum(op, cl)
hi5 = np.maximum(np.maximum(op, cl), lo5 + 0.35)
ax2.vlines(xj[ok], lo5[ok], hi5[ok], colors=col5[ok], lw=0.72, zorder=3, antialiaseds=False)

# ---------- levels, trend lines ----------
for ax in (ax1, ax2):
    ax.axhline(LEVEL_LOW, color=BLUE, lw=0.72, zorder=2)
ax1.axhline(LEVEL_HIGH, color="#ff0000", lw=0.72, zorder=5)
sns.lineplot(x=D1_TREND1_X, y=D1_TREND1_Y, ax=ax1, color="#ff0000", lw=0.68, antialiased=False, zorder=5)
sns.lineplot(x=D1_TREND2_X, y=D1_TREND2_Y, ax=ax1, color="#ff4500", lw=0.68, antialiased=False, zorder=5)
sns.lineplot(x=M5_TREND_X, y=M5_TREND_Y, ax=ax2, color="#ff4500", lw=0.68, antialiased=False, zorder=5)
for ax, xs, ys in ((ax1, D1_DASH_X, D1_DASH_Y), (ax2, M5_DASH_X, M5_DASH_Y)):
    ax.plot(xs, ys, color=RED, lw=0.75, dashes=(3.5, 3), zorder=5)
    ax.plot([xs[1]], [ys[1]], marker=">", ms=4.5, color=RED, mew=0, zorder=6)
for j in M5_SEPARATORS:
    ax2.axvline(j, color="black", lw=0.85, dashes=(3, 2.6), zorder=1)

# ---------- scales ----------
ax1.set_ylim(26.56, 166.03)
ax2.set_ylim(33.29, 113.77)
for ax, lim in ((ax1, (-1.075, 454.675)), (vol1, (-1.075, 454.675)), (ax2, (-0.15, 911.35)), (vol2, (-0.15, 911.35))):
    ax.set_xlim(*lim)
for v in (vol1, vol2):
    v.set_yticks([]); v.set_ylabel(""); v.set_xlabel("")
    v.patch.set_visible(False)
    for s in v.spines.values():
        s.set_visible(False)
for ax in (vol1, vol2):
    ax.set_zorder(1)
for ax in (ax1, ax2):
    ax.set_zorder(2)
    ax.patch.set_visible(False)
    ax.yaxis.tick_right()
    for s in ax.spines.values():
        s.set_visible(True); s.set_color("black"); s.set_linewidth(0.9)
    ax.tick_params(axis="y", which="major", right=True, length=3, width=0.72, pad=1.6, labelsize=6.9, labelcolor="black", color="black")
    ax.tick_params(axis="x", which="major", bottom=True, length=3, width=0.72, pad=1.5, labelsize=6.7, labelcolor="black", color="black")
ax1.set_yticks(D1_TICKS, [f"{t:.2f}" for t in D1_TICKS])
ax2.set_yticks(M5_TICKS, [f"{t:.2f}" for t in M5_TICKS])
ax1.set_xticks(np.arange(29) * 16 - 1, [""] * 29)
ax2.set_xticks(np.arange(29) * 32, M5_LABELS, ha="left")

for ax, y, fc, s in ((ax1, LEVEL_HIGH, "#ff0000", "130.09"), (ax1, LEVEL_LOW, "#9DB8EE", "84.34"), (ax2, LEVEL_LOW, "#9DB8EE", "84.34")):
    ax.annotate(s, xy=(1, y), xycoords=ax.get_yaxis_transform(), xytext=(4.4, 0), textcoords="offset points",
                fontsize=6.9, color="white", va="center", ha="left", annotation_clip=False, zorder=10,
                bbox=dict(boxstyle="square,pad=0.3", fc=fc, ec="none"))

fig.savefig("out.png", dpi=100, facecolor=fig.get_facecolor())
